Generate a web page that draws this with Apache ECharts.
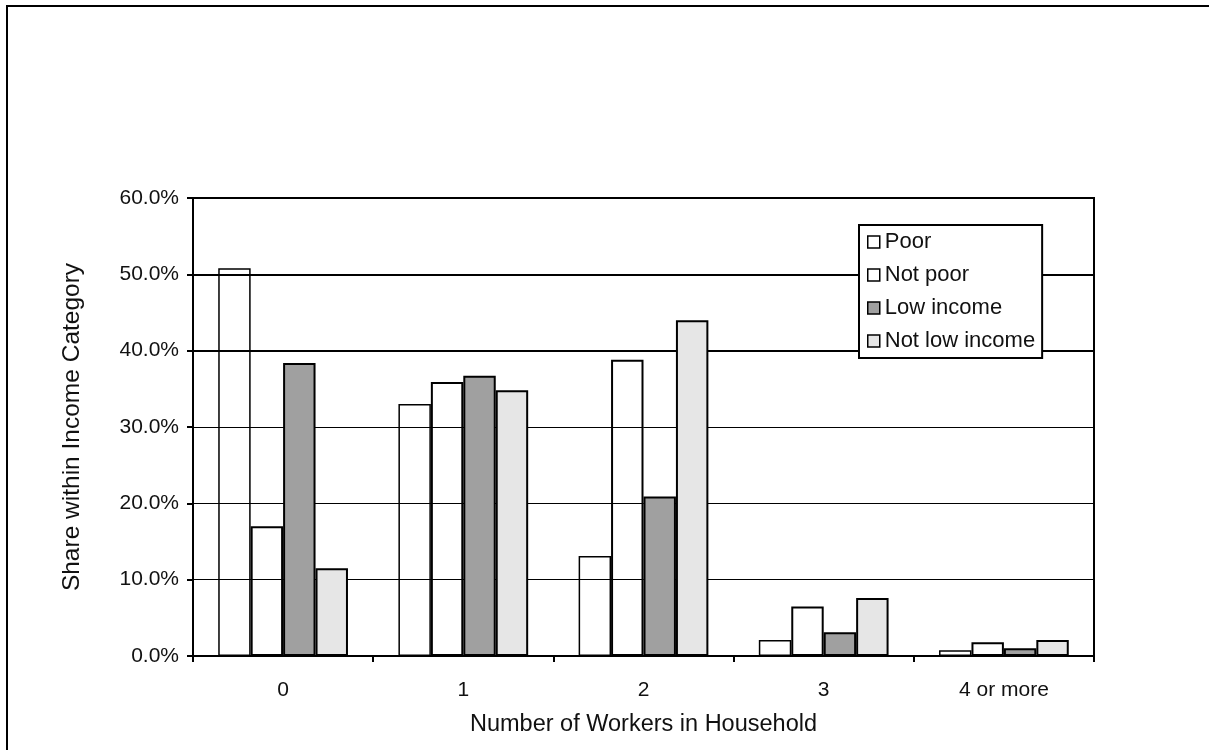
<!DOCTYPE html>
<html>
<head>
<meta charset="utf-8">
<script src="https://cdn.jsdelivr.net/npm/echarts@6/dist/echarts.min.js"></script>
<style>
  html, body { margin: 0; padding: 0; background: #fff; }
  #chart { width: 1209px; height: 750px; }
</style>
</head>
<body>
<div id="chart"></div>
<script>
const categories = ['0', '1', '2', '3', '4 or more'];
const poor = [50.8, 33.0, 13.1, 2.1, 0.75];
const notPoor = [17.0, 35.9, 38.8, 6.5, 1.8];
const lowIncome = [38.4, 36.7, 20.9, 3.1, 1.0];
const notLowIncome = [11.5, 34.8, 44.0, 7.6, 2.1];
const seriesNames = ['Poor', 'Not poor', 'Low income', 'Not low income'];
const yTicks = [0, 10, 20, 30, 40, 50, 60];

const FONT = '"Liberation Sans", Arial, sans-serif';
const chart = echarts.init(document.getElementById('chart'), null, { renderer: 'canvas' });

function barSeries(name, data, fill, bw) {
  return {
    name: name,
    type: 'bar',
    data: data,
    barGap: '0%',
    barCategoryGap: '28%',
    itemStyle: { color: fill, borderColor: '#000', borderWidth: bw },
    emphasis: { disabled: true }
  };
}

const option = {
  animation: false,
  backgroundColor: '#fff',
  textStyle: { fontFamily: FONT, color: '#111' },
  graphic: [{
    type: 'rect',
    shape: { x: 7, y: 6, width: 1240, height: 800 },
    style: { fill: 'none', stroke: '#000', lineWidth: 2 },
    silent: true,
    z: -10
  }],
  grid: {
    left: 193, right: 115, top: 198, bottom: 94,
    show: true, borderColor: '#000', borderWidth: 2, backgroundColor: 'transparent'
  },
  legend: {
    orient: 'vertical',
    left: 859, top: 225,
    data: seriesNames,
    backgroundColor: '#fff',
    borderColor: '#000',
    borderWidth: 2,
    padding: [6, 7, 6, 8],
    itemWidth: 12, itemHeight: 12,
    itemGap: 11,
    itemTextGap: 8,
    icon: 'rect',
    itemStyle: { borderColor: '#000', borderWidth: 1.5 },
    textStyle: { fontFamily: FONT, fontSize: 22, lineHeight: 22, color: '#111' },
    z: 10
  },
  xAxis: {
    type: 'category',
    data: categories,
    name: 'Number of Workers in Household',
    nameLocation: 'middle',
    nameGap: 57,
    nameTextStyle: { fontFamily: FONT, fontSize: 23.5, color: '#111' },
    axisLine: { lineStyle: { color: '#000', width: 2 } },
    axisTick: { show: true, length: 6, lineStyle: { color: '#000', width: 2 } },
    axisLabel: { fontFamily: FONT, fontSize: 21, color: '#111', margin: 24 },
    splitLine: { show: false }
  },
  yAxis: [{
    type: 'value',
    min: yTicks[0], max: yTicks[yTicks.length - 1], interval: 10,
    name: 'Share within Income Category',
    nameLocation: 'middle',
    nameGap: 108,
    nameRotate: 90,
    nameTextStyle: { fontFamily: FONT, fontSize: 24.5, color: '#111' },
    axisLine: { show: true, lineStyle: { color: '#000', width: 2 } },
    axisTick: { show: true, length: 6, lineStyle: { color: '#000', width: 2 } },
    axisLabel: {
      fontFamily: FONT, fontSize: 21, color: '#111', margin: 14,
      formatter: v => v.toFixed(1) + '%'
    },
    splitLine: { show: true, lineStyle: { color: '#000', width: 1 } }
  }, {
    type: 'value',
    position: 'left',
    min: yTicks[0], max: yTicks[yTicks.length - 1], interval: 10,
    axisLine: { show: false },
    axisTick: { show: false },
    axisLabel: { show: false },
    splitLine: {
      show: true,
      lineStyle: {
        color: ['rgba(0,0,0,0)', 'rgba(0,0,0,0)', 'rgba(0,0,0,0)', 'rgba(0,0,0,0)', '#000', '#000', 'rgba(0,0,0,0)'],
        width: 2
      }
    }
  }],
  series: [
    barSeries(seriesNames[0], poor, 'rgba(255,255,255,0)', 1.5),
    barSeries(seriesNames[1], notPoor, 'rgba(255,255,255,0)', 2),
    barSeries(seriesNames[2], lowIncome, '#a0a0a0', 2),
    barSeries(seriesNames[3], notLowIncome, '#e6e6e6', 2)
  ]
};
chart.setOption(option);
</script>
</body>
</html>
